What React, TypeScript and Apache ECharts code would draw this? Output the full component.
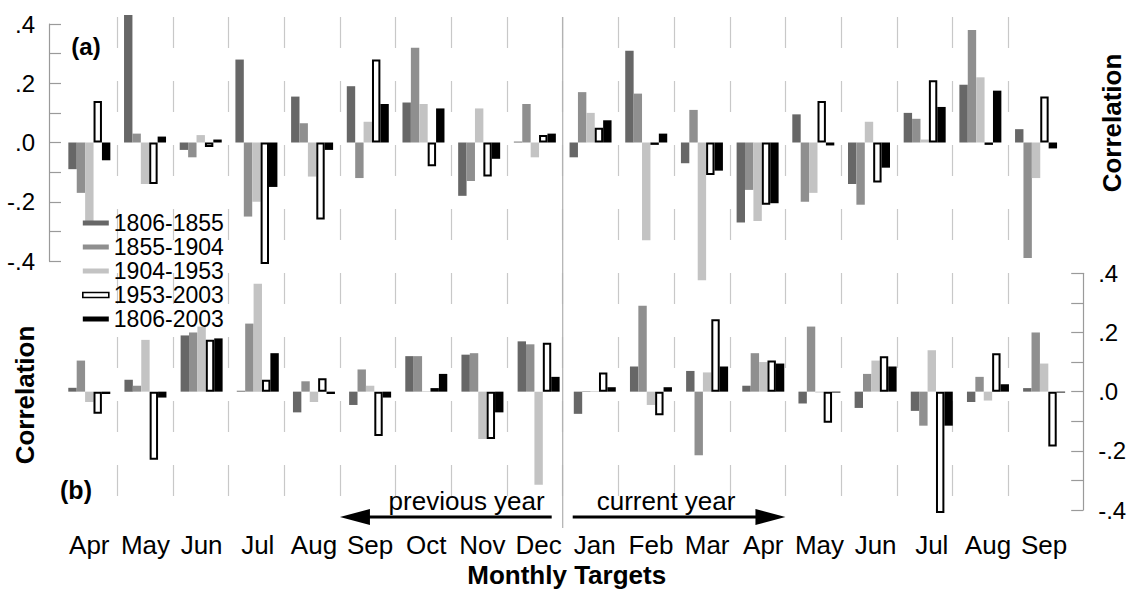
import React, { useEffect, useRef } from "react";
import * as echarts from "echarts";

const months = ["Apr", "May", "Jun", "Jul", "Aug", "Sep", "Oct", "Nov", "Dec", "Jan", "Feb", "Mar", "Apr", "May", "Jun", "Jul", "Aug", "Sep"];
const seriesNames = ["1806-1855", "1855-1904", "1904-1953", "1953-2003", "1806-2003"];

// panel (a)
const a1806_1855 = [-0.09, 0.43, -0.025, 0.28, 0.155, 0.19, 0.135, -0.18, 0.003, -0.05, 0.31, -0.07, -0.27, 0.095, -0.14, 0.10, 0.195, 0.045];
const a1855_1904 = [-0.17, 0.03, -0.05, -0.25, 0.065, -0.12, 0.32, -0.13, 0.13, 0.17, 0.165, 0.11, -0.16, -0.20, -0.21, 0.08, 0.38, -0.39];
const a1904_1953 = [-0.275, -0.14, 0.025, -0.20, -0.115, 0.07, 0.13, 0.115, -0.05, 0.10, -0.33, -0.465, -0.265, -0.17, 0.07, 0.01, 0.22, -0.12];
const a1953_2003 = [0.14, -0.14, -0.015, -0.41, -0.26, 0.28, -0.08, -0.115, 0.025, 0.05, -0.008, -0.11, -0.21, 0.14, -0.135, 0.21, -0.008, 0.155];
const a1806_2003 = [-0.06, 0.02, 0.01, -0.15, -0.025, 0.13, 0.115, -0.055, 0.03, 0.075, 0.03, -0.095, -0.205, -0.01, -0.085, 0.12, 0.175, -0.02];

// panel (b)
const b1806_1855 = [0.013, 0.04, 0.19, 0.003, -0.07, -0.045, 0.12, 0.125, 0.17, -0.075, 0.085, 0.07, 0.02, -0.04, -0.055, -0.065, -0.035, 0.012];
const b1855_1904 = [0.105, 0.02, 0.20, 0.23, 0.035, 0.075, 0.12, 0.13, 0.16, 0.002, 0.29, -0.215, 0.13, 0.22, 0.06, -0.115, 0.05, 0.20];
const b1904_1953 = [-0.035, 0.175, 0.22, 0.365, -0.035, 0.02, 0.002, -0.16, -0.315, 0.002, -0.045, 0.065, 0.10, -0.003, 0.105, 0.14, -0.03, 0.095];
const b1953_2003 = [-0.075, -0.23, 0.175, 0.04, 0.045, -0.15, 0.012, -0.16, 0.165, 0.065, -0.08, 0.245, 0.105, -0.105, 0.12, -0.41, 0.13, -0.185];
const b1806_2003 = [-0.008, -0.02, 0.18, 0.13, -0.008, -0.02, 0.06, -0.07, 0.05, 0.015, 0.015, 0.085, 0.095, -0.003, 0.085, -0.115, 0.025, -0.003];

const panelA = [a1806_1855, a1855_1904, a1904_1953, a1953_2003, a1806_2003];
const panelB = [b1806_1855, b1855_1904, b1904_1953, b1953_2003, b1806_2003];

const FONT = "'Liberation Sans', Arial, Helvetica, sans-serif";
const itemStyles = [
  { color: "#676767" },
  { color: "#8f8f8f" },
  { color: "#c3c3c3" },
  { color: "#ffffff", borderColor: "#000000", borderWidth: 2 },
  { color: "#000000" },
];

const fmtTick = (v: number) => {
  const r = Math.round(v * 10);
  if (r === 0) return ".0";
  return (r < 0 ? "-" : "") + "." + Math.abs(r);
};

export default function App() {
  const ref = useRef<HTMLDivElement>(null);
  useEffect(() => {
    if (!ref.current) return;
    const chart = echarts.init(ref.current, undefined, { renderer: "svg" });

    const yAxisCommon = (pos: "left" | "right", offset: number, margin: number) => ({
      type: "value",
      position: pos,
      offset,
      min: -0.4,
      max: 0.4,
      interval: 0.2,
      axisLine: { show: true, onZero: false, lineStyle: { color: "#9a9a9a", width: 1.2 } },
      axisTick: { show: true, inside: true, length: 12, lineStyle: { color: "#9a9a9a", width: 1.2 } },
      minorTick: { show: true, splitNumber: 2, length: 12, lineStyle: { color: "#9a9a9a", width: 1.2 } },
      splitLine: { show: false },
      axisLabel: { formatter: fmtTick, fontSize: 24, color: "#000", fontFamily: FONT, margin },
    });

    const series: any[] = [];
    seriesNames.forEach((name, i) => {
      series.push({
        type: "bar",
        name,
        xAxisIndex: 0,
        yAxisIndex: 0,
        data: panelA[i],
        barWidth: 8.4,
        barGap: "0%",
        clip: false,
        itemStyle: itemStyles[i],
        emphasis: { disabled: true },
      });
    });
    seriesNames.forEach((name, i) => {
      series.push({
        type: "bar",
        name,
        xAxisIndex: 1,
        yAxisIndex: 1,
        data: panelB[i],
        barWidth: 8.4,
        barGap: "0%",
        clip: false,
        itemStyle: itemStyles[i],
        emphasis: { disabled: true },
      });
    });

    chart.setOption({
      animation: false,
      textStyle: { fontFamily: FONT },
      grid: [
        { left: 61.5, width: 1002.4, top: 24, height: 237 },
        { left: 61.2, width: 1011, top: 273.3, height: 237 },
        { left: 61.5, width: 1002.4, top: 17, height: 480 },
      ],
      xAxis: [
        { type: "category", gridIndex: 0, data: months, show: false },
        {
          type: "category",
          gridIndex: 1,
          data: months,
          axisLine: { show: false },
          axisTick: { show: false },
          splitLine: { show: false },
          axisLabel: { interval: 0, fontSize: 26, color: "#000", fontFamily: FONT, margin: 22 },
          name: "Monthly Targets",
          nameLocation: "middle",
          nameGap: 52,
          nameTextStyle: { fontSize: 26, fontWeight: "bold", color: "#000", fontFamily: FONT },
        },
        {
          type: "category",
          gridIndex: 2,
          data: months,
          axisLine: { show: false },
          axisTick: { show: false },
          axisLabel: { show: false, interval: 0 },
          splitLine: {
            show: true,
            interval: 0,
            showMinLine: false,
            showMaxLine: false,
            lineStyle: { color: "#c8c8c8", width: 1.2, type: [31, 33] },
          },
        },
      ],
      yAxis: [
        { gridIndex: 0, ...yAxisCommon("left", 12.5, 14) },
        { gridIndex: 1, ...yAxisCommon("right", 11, 15) },
        { type: "value", gridIndex: 2, show: false, min: 0, max: 1 },
      ],
      legend: {
        left: 82,
        top: 211,
        padding: 0,
        orient: "vertical",
        itemGap: 0,
        itemWidth: 26,
        itemHeight: 5,
        icon: "rect",
        selectedMode: false,
        textStyle: { fontSize: 23, lineHeight: 24, color: "#000", fontFamily: FONT },
        data: seriesNames.map((n, i) => ({
          name: n,
          itemStyle: i === 3 ? { color: "#fff", borderColor: "#000", borderWidth: 1.6 } : itemStyles[i],
        })),
      },
      series,
    });

    const px = (i: number) => chart.convertToPixel({ xAxisIndex: 2 }, i) as number;
    const divider = (px(8) + px(9)) / 2;
    const leftTip = (px(4) + px(5)) / 2;
    const rightTip = (px(12) + px(13)) / 2;
    const ay = 517;

    chart.setOption({
      graphic: [
        { type: "line", shape: { x1: divider, y1: 17, x2: divider, y2: 528 }, style: { stroke: "#b0b0b0", lineWidth: 1.2 }, z: 1 },
        { type: "line", shape: { x1: leftTip + 20, y1: ay, x2: divider - 11, y2: ay }, style: { stroke: "#000", lineWidth: 3 } },
        { type: "polygon", shape: { points: [[leftTip, ay], [leftTip + 30, ay - 8], [leftTip + 30, ay + 8]] }, style: { fill: "#000" } },
        { type: "line", shape: { x1: divider + 10, y1: ay, x2: rightTip - 20, y2: ay }, style: { stroke: "#000", lineWidth: 3 } },
        { type: "polygon", shape: { points: [[rightTip, ay], [rightTip - 30, ay - 8], [rightTip - 30, ay + 8]] }, style: { fill: "#000" } },
        { type: "text", x: divider - 18, y: 501, style: { text: "previous year", fontSize: 26, fontFamily: FONT, fill: "#000", textAlign: "right", textVerticalAlign: "middle" } },
        { type: "text", x: divider + 34, y: 501, style: { text: "current year", fontSize: 26, fontFamily: FONT, fill: "#000", textAlign: "left", textVerticalAlign: "middle" } },
        { type: "text", x: 86, y: 46, style: { text: "(a)", fontSize: 24, fontWeight: "bold", fontFamily: FONT, fill: "#000", textAlign: "center", textVerticalAlign: "middle" } },
        { type: "text", x: 76, y: 490, style: { text: "(b)", fontSize: 25, fontWeight: "bold", fontFamily: FONT, fill: "#000", textAlign: "center", textVerticalAlign: "middle" } },
        { type: "text", x: 1112, y: 123, rotation: Math.PI / 2, style: { text: "Correlation", fontSize: 26, fontWeight: "bold", fontFamily: FONT, fill: "#000", textAlign: "center", textVerticalAlign: "middle" } },
        { type: "text", x: 25, y: 395, rotation: Math.PI / 2, style: { text: "Correlation", fontSize: 26, fontWeight: "bold", fontFamily: FONT, fill: "#000", textAlign: "center", textVerticalAlign: "middle" } },
      ],
    });

    return () => chart.dispose();
  }, []);
  return <div ref={ref} style={{ position: "fixed", left: 0, top: 0, width: 1131, height: 589, background: "#fff" }} />;
}
